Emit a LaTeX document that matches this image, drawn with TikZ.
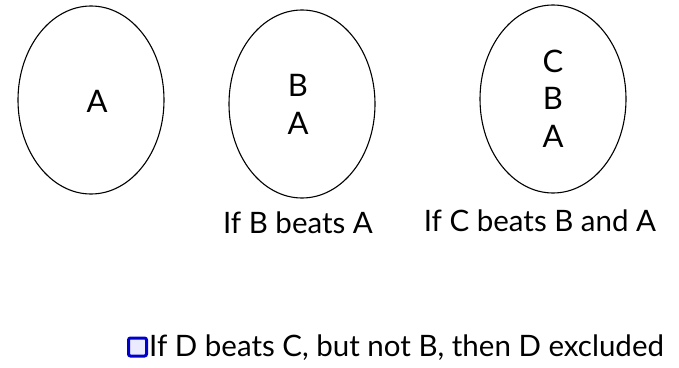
\documentclass[tikz,border=0pt]{standalone}
\usepackage{fontspec}
\setmainfont{Lato}
\usetikzlibrary{shapes.geometric}
\begin{document}
\begin{tikzpicture}[x=1pt,y=-1pt,
  oval/.style={draw,line width=1.1pt,ellipse,minimum width=146pt,minimum height=188pt,inner sep=0pt},
  letter/.style={font=\fontsize{31}{36}\selectfont,inner sep=0pt},
  caption/.style={font=\fontsize{29.5}{34}\selectfont,inner sep=0pt,anchor=base}]
\useasboundingbox (0,0) rectangle (679,367);
\node[oval] (e1) at (91,100) {};
\node[oval] (e2) at (302,104) {};
\node[oval] (e3) at (553,99) {};
\node[letter] (a1) at (97,101) {A};
\node[letter] (b2) at (298,85) {B};
\node[letter] (a2) at (298,123) {A};
\node[letter] (c3) at (553,61) {C};
\node[letter] (b3) at (553,98) {B};
\node[letter] (a3) at (553,136) {A};
\node[caption] (l2) at (298,233) {If B beats A};
\node[caption] (l3) at (540,231) {If C beats B and A};
\node[draw=blue!80!black,line width=3pt,fill=blue!8,rounded corners=2pt,minimum size=18pt,inner sep=0pt] (icon) at (137.5,347) {};
\node[caption,anchor=base west] (l4) at (149,356) {If D beats C, but not B, then D excluded};
\end{tikzpicture}
\end{document}
